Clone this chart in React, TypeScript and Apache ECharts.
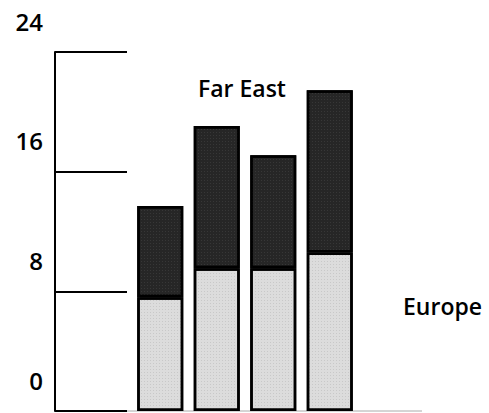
import React, { useEffect, useRef } from "react";
import * as echarts from "echarts";

const categories = ["1", "2", "3", "4"];
const europe = [7.6, 9.55, 9.55, 10.6];
const farEast = [6.1, 9.5, 7.55, 10.85];
const yTicks = [0, 8, 16, 24];

export default function App() {
  const ref = useRef<HTMLDivElement>(null);
  useEffect(() => {
    if (!ref.current) return;
    const chart = echarts.init(ref.current, null, { renderer: "svg" });
    const font = "'Open Sans', 'Noto Sans', sans-serif";
    chart.setOption({
      animation: false,
      backgroundColor: "#ffffff",
      grid: { left: 132, right: 131, top: 52, bottom: 2, outerBoundsMode: "none", containLabel: false },
      xAxis: {
        type: "category",
        data: categories,
        axisLine: { show: false },
        axisTick: { show: false },
        axisLabel: { show: false },
        splitLine: { show: false },
      },
      yAxis: {
        type: "value",
        min: yTicks[0],
        max: yTicks[yTicks.length - 1],
        interval: 8,
        offset: 77,
        axisLine: { show: true, lineStyle: { color: "#000", width: 2 } },
        axisTick: { show: true, inside: true, length: 72, lineStyle: { color: "#000", width: 2 } },
        splitLine: { show: false },
        axisLabel: {
          margin: 12,
          color: "#000",
          fontSize: 24,
          fontWeight: 600,
          fontFamily: font,
          verticalAlign: "bottom",
          lineHeight: 62,
        },
      },
      graphic: [
        {
          type: "line",
          shape: { x1: 55, y1: 411, x2: 422, y2: 411 },
          style: { stroke: "#aaaaaa", lineWidth: 1 },
          z: 0,
        },
        {
          type: "text",
          left: 198,
          top: 76,
          style: { text: "Far East", fill: "#000", fontSize: 23, fontWeight: 600, fontFamily: font },
        },
        {
          type: "text",
          left: 403,
          top: 294,
          style: { text: "Europe", fill: "#000", fontSize: 23, fontWeight: 600, fontFamily: font },
        },
      ],
      series: [
        {
          name: "Europe",
          type: "bar",
          stack: "total",
          data: europe,
          barWidth: 46,
          itemStyle: {
            color: "#dcdcdc",
            borderColor: "#000",
            borderWidth: 2.5,
            decal: {
              symbol: "rect",
              symbolSize: 0.5,
              color: "rgba(0,0,0,0.35)",
              dashArrayX: [1, 2],
              dashArrayY: [1, 2],
            },
          },
        },
        {
          name: "Far East",
          type: "bar",
          stack: "total",
          data: farEast,
          barWidth: 46,
          itemStyle: {
            color: "#262626",
            borderColor: "#000",
            borderWidth: 2.5,
            decal: {
              symbol: "rect",
              symbolSize: 0.5,
              color: "rgba(255,255,255,0.3)",
              dashArrayX: [1, 2],
              dashArrayY: [1, 2],
            },
          },
        },
      ],
    });
    return () => chart.dispose();
  }, []);
  return <div ref={ref} style={{ width: 489, height: 413, position: "absolute", left: 0, top: 0 }} />;
}
